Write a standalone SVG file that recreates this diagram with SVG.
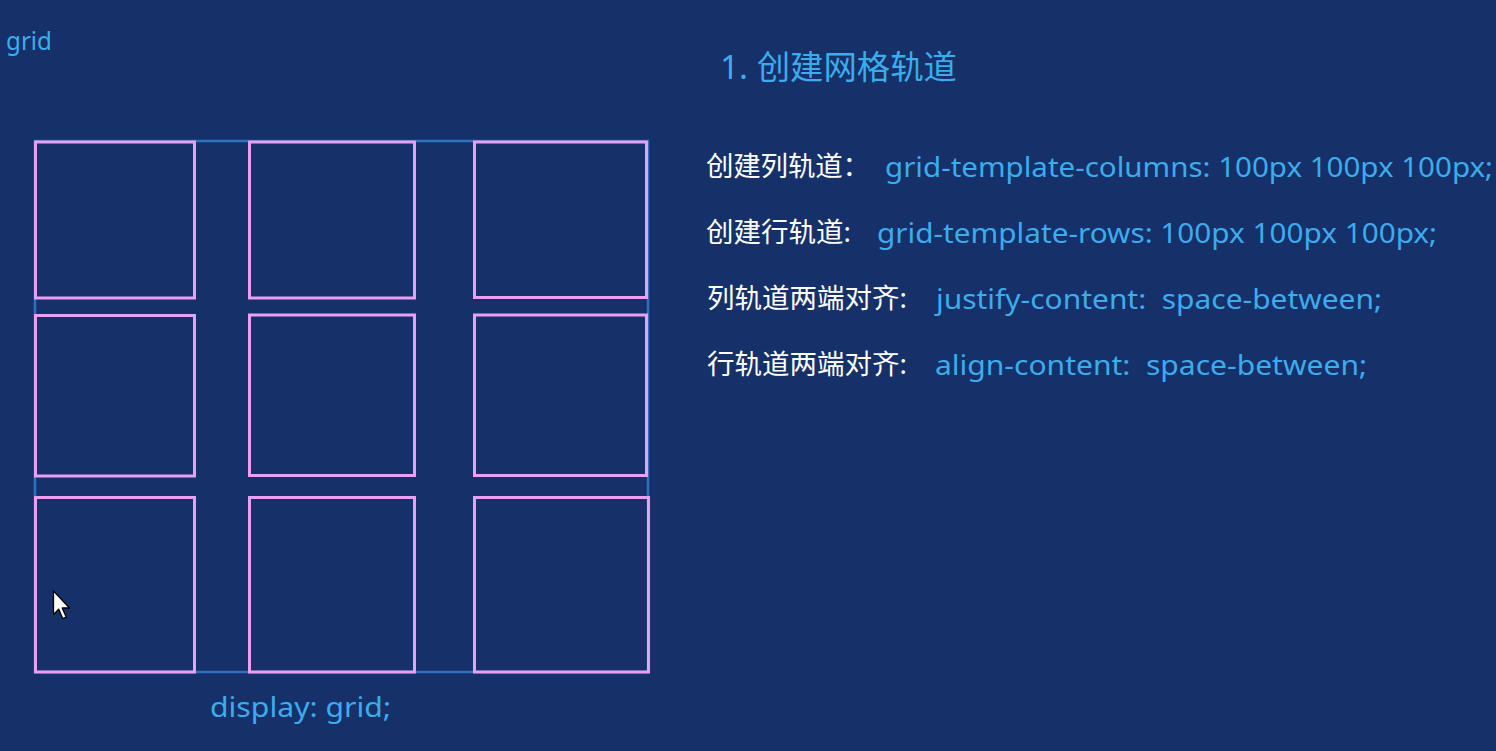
<svg xmlns="http://www.w3.org/2000/svg" width="1496" height="751" viewBox="0 0 1496 751">
  <style>
    .bg { fill: #16306a; }
    .cell { fill: none; stroke: #e8a0f0; stroke-width: 3; }
    .container { fill: none; stroke: #2a72bd; stroke-width: 2.5; }
    .t { font-family: "Noto Sans", "Noto Sans CJK SC", sans-serif; white-space: pre; }
    .blue { fill: #3cacec; }
    .white { fill: #ffffff; }
  </style>
  <rect class="bg" x="0" y="0" width="1496" height="751"/>

  <text id="label-grid" class="t blue" x="6" y="50" font-size="26" textLength="46" lengthAdjust="spacingAndGlyphs">grid</text>

  <g id="grid-container">
    <rect class="container" x="35" y="141" width="613" height="531"/>
  </g>

  <g id="cells">
    <rect id="cell-1" class="cell" x="35.5" y="142" width="159" height="156"/>
    <rect id="cell-2" class="cell" x="249.5" y="142" width="165" height="156"/>
    <rect id="cell-3" class="cell" x="474.5" y="142" width="172" height="155.5"/>
    <rect id="cell-4" class="cell" x="35.5" y="315.5" width="159" height="160.5"/>
    <rect id="cell-5" class="cell" x="249.5" y="315" width="165" height="160.5"/>
    <rect id="cell-6" class="cell" x="474.5" y="315" width="172" height="160.5"/>
    <rect id="cell-7" class="cell" x="35.5" y="497.5" width="159" height="174.5"/>
    <rect id="cell-8" class="cell" x="249.5" y="497.5" width="165" height="174.5"/>
    <rect id="cell-9" class="cell" x="474.5" y="497.5" width="174" height="174.5"/>
  </g>

  <g id="cursor">
    <path d="M53.5,591 L53.5,614.5 L58.7,609.3 L62.7,618.5 L66.2,617 L62.2,608 L69.5,608 Z" fill="#ffffff" stroke="#000000" stroke-width="1.3" stroke-linejoin="round"/>
  </g>

  <text id="display-grid" class="t blue" x="210" y="717" font-size="28" textLength="181" lengthAdjust="spacingAndGlyphs">display: grid;</text>

  <text id="title" class="t blue" x="720" y="79" font-size="33" textLength="237" lengthAdjust="spacingAndGlyphs">1. 创建网格轨道</text>

  <g id="line-1">
    <text class="t white" x="706" y="176" font-size="27.5" textLength="164" lengthAdjust="spacing">创建列轨道：</text>
    <text class="t blue" x="885" y="177" font-size="27" textLength="608" lengthAdjust="spacingAndGlyphs">grid-template-columns: 100px 100px 100px;</text>
  </g>
  <g id="line-2">
    <text class="t white" x="706" y="242" font-size="27.5">创建行轨道:</text>
    <text class="t blue" x="877" y="243" font-size="27" textLength="560" lengthAdjust="spacingAndGlyphs">grid-template-rows: 100px 100px 100px;</text>
  </g>
  <g id="line-3">
    <text class="t white" x="707" y="308" font-size="27.5">列轨道两端对齐:</text>
    <text class="t blue" x="936" y="309" font-size="27" textLength="446" lengthAdjust="spacingAndGlyphs">justify-content:  space-between;</text>
  </g>
  <g id="line-4">
    <text class="t white" x="707" y="374" font-size="27.5">行轨道两端对齐:</text>
    <text class="t blue" x="935" y="375" font-size="27" textLength="432" lengthAdjust="spacingAndGlyphs">align-content:  space-between;</text>
  </g>
</svg>
